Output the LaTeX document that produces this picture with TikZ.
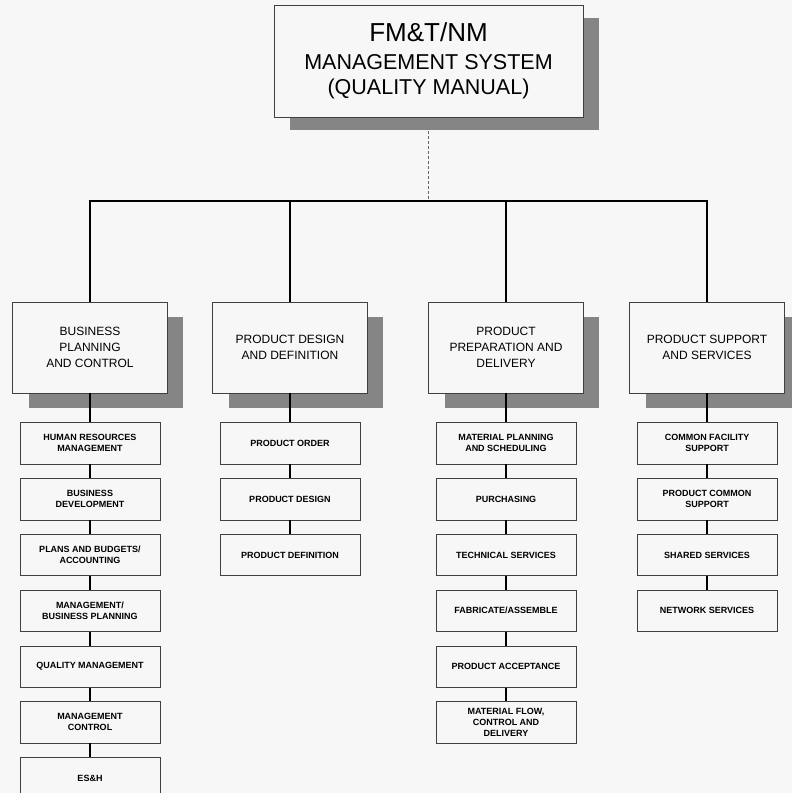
\documentclass[tikz,border=0pt]{standalone}
\usepackage{fontspec}
\setmainfont{Liberation Sans}
\usetikzlibrary{positioning,shadows}

\begin{document}
\begin{tikzpicture}[x=1pt,y=-1pt]
\tikzstyle{every node} = [font = \fontsize{9}{11}\selectfont\bfseries]
\tikzstyle{taskbox} = [draw=black!75, line width=0.6pt, fill=black!3, align=center, inner sep=0pt, minimum width=140pt, minimum height=41.5pt]
\tikzstyle{groupbox} = [draw=black!75, line width=0.6pt, fill=black!3, align=center, inner sep=0pt, minimum width=154.5pt, minimum height=91pt, font=\fontsize{12}{16}\selectfont, drop shadow={shadow xshift=16pt, shadow yshift=-15pt, fill=black!48, opacity=1}]
\tikzstyle{headbox} = [draw=black!75, line width=0.6pt, fill=black!3, align=center, inner sep=0pt, minimum width=309pt, minimum height=112pt, font=\fontsize{21.5}{25}\selectfont, drop shadow={shadow xshift=16pt, shadow yshift=-13pt, fill=black!48, opacity=1}]
\tikzstyle{link} = [line width=2pt, black]
\useasboundingbox[fill=black!3] (0,0) rectangle (792,793);

% head
\node [headbox] (qm) at (428.5,61) {{\fontsize{26}{28}\selectfont FM\&T/NM}\\[3pt]MANAGEMENT SYSTEM\\(QUALITY MANUAL)};

% groups
\node [groupbox] (bpc) at (90,347.5) {BUSINESS\\PLANNING\\AND CONTROL};
\node [groupbox] (pdd) at (290,347.5) {PRODUCT DESIGN\\AND DEFINITION};
\node [groupbox] (ppd) at (506,347.5) {PRODUCT\\PREPARATION AND\\DELIVERY};
\node [groupbox] (pss) at (707,347.5) {PRODUCT SUPPORT\\AND SERVICES};

% business planning and control
\node [taskbox, below=29pt of bpc] (hrm) {HUMAN RESOURCES\\MANAGEMENT};
\node [taskbox, below=13.7pt of hrm] (bd) {BUSINESS\\DEVELOPMENT};
\node [taskbox, below=13.7pt of bd] (pba) {PLANS AND BUDGETS/\\ACCOUNTING};
\node [taskbox, below=13.7pt of pba] (mbp) {MANAGEMENT/\\BUSINESS PLANNING};
\node [taskbox, below=13.7pt of mbp] (qmg) {QUALITY MANAGEMENT};
\node [taskbox, below=13.7pt of qmg] (mc) {MANAGEMENT\\CONTROL};
\node [taskbox, below=13.7pt of mc] (esh) {ES\&H};

% product design and definition
\node [taskbox, below=29pt of pdd] (po) {PRODUCT ORDER};
\node [taskbox, below=13.7pt of po] (pd) {PRODUCT DESIGN};
\node [taskbox, below=13.7pt of pd] (pdef) {PRODUCT DEFINITION};

% product preparation and delivery
\node [taskbox, below=29pt of ppd] (mps) {MATERIAL PLANNING\\AND SCHEDULING};
\node [taskbox, below=13.7pt of mps] (pur) {PURCHASING};
\node [taskbox, below=13.7pt of pur] (ts) {TECHNICAL SERVICES};
\node [taskbox, below=13.7pt of ts] (fa) {FABRICATE/ASSEMBLE};
\node [taskbox, below=13.7pt of fa] (pa) {PRODUCT ACCEPTANCE};
\node [taskbox, below=13.7pt of pa] (mfcd) {MATERIAL FLOW,\\CONTROL AND\\DELIVERY};

% product support and services
\node [taskbox, below=29pt of pss] (cfs) {COMMON FACILITY\\SUPPORT};
\node [taskbox, below=13.7pt of cfs] (pcs) {PRODUCT COMMON\\SUPPORT};
\node [taskbox, below=13.7pt of pcs] (ss) {SHARED SERVICES};
\node [taskbox, below=13.7pt of ss] (ns) {NETWORK SERVICES};

% connectors
\coordinate (bus) at (428.5,201);
\draw [thin, densely dashed, black!60] ([yshift=-14pt]qm.south) -- (bus);
\draw [link] (bpc.north) |- (bus) -| (pss.north);
\draw [link] (pdd.north) -- (pdd.north |- bus);
\draw [link] (ppd.north) -- (ppd.north |- bus);

\draw [link] (bpc.south) -- (hrm) (hrm) -- (bd) (bd) -- (pba) (pba) -- (mbp) (mbp) -- (qmg) (qmg) -- (mc) (mc) -- (esh);
\draw [link] (pdd.south) -- (po) (po) -- (pd) (pd) -- (pdef);
\draw [link] (ppd.south) -- (mps) (mps) -- (pur) (pur) -- (ts) (ts) -- (fa) (fa) -- (pa) (pa) -- (mfcd);
\draw [link] (pss.south) -- (cfs) (cfs) -- (pcs) (pcs) -- (ss) (ss) -- (ns);

\end{tikzpicture}
\end{document}
